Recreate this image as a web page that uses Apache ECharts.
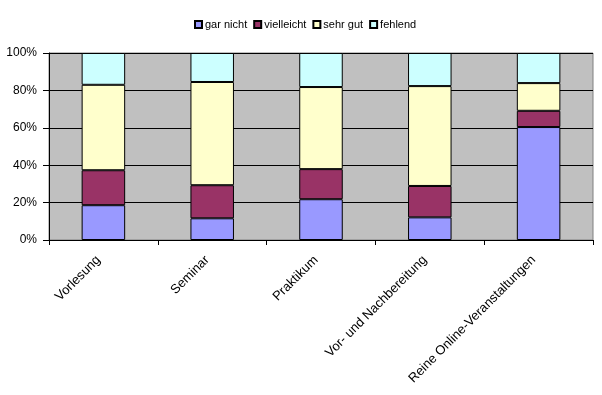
<!DOCTYPE html>
<html><head><meta charset="utf-8">
<script src="https://cdn.jsdelivr.net/npm/echarts@6/dist/echarts.min.js"></script>
<style>html,body{margin:0;padding:0;background:#fff}#c{width:602px;height:395px}</style>
</head><body><div id="c"></div>
<script>
const categories = ['Vorlesung', 'Seminar', 'Praktikum', 'Vor- und Nachbereitung', 'Reine Online-Veranstaltungen'];
const garNicht = [18.6, 11.6, 21.8, 12.1, 60.4];
const vielleicht = [18.7, 17.7, 16.1, 16.8, 8.7];
const sehrGut = [45.7, 55.2, 43.9, 53.4, 14.8];
const fehlend = [17.0, 15.5, 18.2, 17.7, 16.1];
const seriesNames = ['gar nicht', 'vielleicht', 'sehr gut', 'fehlend'];
const colors = ['#9999FF', '#993366', '#FFFFCC', '#CCFFFF'];
const yTicks = [0, 20, 40, 60, 80, 100];

const font = 'Liberation Sans, Arial, sans-serif';
const chart = echarts.init(document.getElementById('c'), null, {renderer: 'canvas'});
const dataSets = [garNicht, vielleicht, sehrGut, fehlend];
chart.setOption({
  animation: false,
  backgroundColor: '#ffffff',
  legend: {
    left: 189, top: 14,
    itemWidth: 7, itemHeight: 7, itemGap: 6,
    icon: 'rect',
    textStyle: {fontFamily: font, fontSize: 11, color: '#000', padding: [0, 0, 0, -2]},
    data: seriesNames
  },
  grid: {
    left: 49, right: 9, top: 53, bottom: 155,
    show: true, backgroundColor: '#C0C0C0', borderColor: '#808080', borderWidth: 1
  },
  xAxis: {
    type: 'category', data: categories,
    axisLine: {lineStyle: {color: '#000', width: 1}},
    axisTick: {show: true, length: 5, lineStyle: {color: '#000'}},
    axisLabel: {rotate: 45, fontFamily: font, fontSize: 13, color: '#000', margin: 13, interval: 0, padding: [0, 7, 0, 0]}
  },
  yAxis: {
    type: 'value', min: yTicks[0], max: yTicks[yTicks.length - 1], interval: 20,
    axisLine: {show: true, lineStyle: {color: '#000'}},
    axisTick: {show: true, length: 6, lineStyle: {color: '#000'}},
    splitLine: {show: true, lineStyle: {color: '#000', width: 1}},
    axisLabel: {formatter: '{value}%', fontFamily: font, fontSize: 12, color: '#000', margin: 12}
  },
  series: seriesNames.map((n, i) => ({
    name: n, type: 'bar', stack: 'total', data: dataSets[i],
    barCategoryGap: '60%',
    itemStyle: {color: colors[i], borderColor: '#000', borderWidth: 1}
  }))
});
</script></body></html>
